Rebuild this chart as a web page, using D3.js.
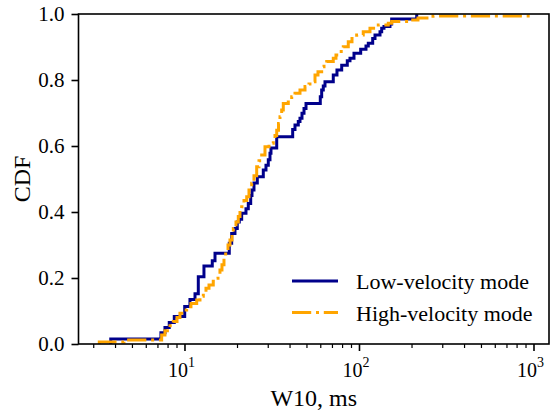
<!DOCTYPE html>
<html>
<head>
<meta charset="utf-8">
<script src="https://cdn.jsdelivr.net/npm/d3@7"></script>
<style>
  body { margin: 0; background: #fff; }
  text { font-family: "Liberation Serif", "Times New Roman", serif; fill: #000; }
</style>
</head>
<body>
<svg id="chart"></svg>
<script>
// W10 (ms) where each CDF step happens, and the CDF value after the step
const lowMs  = [3.78, 7.33, 7.73, 8.18, 8.74, 10.03, 10.75, 11.49, 12.0, 12.93, 14.43, 14.96,
                18.06, 18.64, 19.47, 20.07, 20.61, 21.27, 22.51, 23.21, 23.96, 24.37, 25.02, 26.14,
                28.29, 29.31, 30.22, 30.9, 31.31, 33.77, 41.69, 42.98, 44.89, 45.91, 47.14, 48.41,
                49.71, 60.01, 61.12, 62.43, 63.85, 71.23, 74.79, 79.6, 85.7, 88.8, 93.62, 102.26,
                109.67, 113.06, 119.83, 123.53, 131.96, 134.94, 139.07, 150.5, 153.9, 214.2];
const lowCdf = [0.015, 0.034, 0.05, 0.065, 0.083, 0.114, 0.135, 0.152, 0.204, 0.236, 0.252, 0.275,
                0.305, 0.335, 0.35, 0.37, 0.378, 0.396, 0.41, 0.426, 0.45, 0.467, 0.488, 0.507,
                0.527, 0.542, 0.558, 0.578, 0.594, 0.628, 0.65, 0.664, 0.674, 0.684, 0.699, 0.714,
                0.729, 0.749, 0.77, 0.782, 0.795, 0.815, 0.83, 0.845, 0.858, 0.866, 0.881, 0.893,
                0.903, 0.911, 0.926, 0.936, 0.946, 0.957, 0.962, 0.97, 0.985, 1.0];

const highMs  = [3.25, 4.5, 7.4, 7.73, 8.26, 8.63, 9.06, 9.42, 9.93, 10.29, 10.89, 11.75, 12.27,
                 12.82, 13.28, 13.82, 14.62, 15.15, 15.56, 15.97, 16.4, 16.84, 17.22, 17.76, 18.23,
                 18.72, 19.05, 19.73, 20.34, 20.8, 21.27, 21.93, 22.73, 23.42, 24.27, 25.02, 25.93,
                 26.73, 27.7, 28.93, 30.5, 32.28, 33.01, 33.77, 34.58, 35.26, 36.06, 36.83, 39.34,
                 41.16, 42.98, 45.91, 49.05, 51.7, 53.57, 55.97, 58.21, 61.12, 63.02, 65.31, 71.23,
                 73.81, 76.09, 81.28, 86.82, 91.19, 97.0, 105.8, 115.6, 129.0, 147.2, 153.9, 196.0,
                 217.8, 265.5, 955];
const highCdf = [0.006, 0.012, 0.027, 0.04, 0.055, 0.068, 0.08, 0.093, 0.103, 0.113, 0.123, 0.133, 0.145,
                 0.154, 0.169, 0.179, 0.19, 0.199, 0.212, 0.224, 0.24, 0.26, 0.28, 0.3, 0.315,
                 0.335, 0.35, 0.37, 0.386, 0.406, 0.416, 0.435, 0.446, 0.467, 0.487, 0.51, 0.537,
                 0.555, 0.573, 0.598, 0.608, 0.618, 0.632, 0.648, 0.668, 0.689, 0.709, 0.729, 0.739,
                 0.749, 0.76, 0.77, 0.78, 0.788, 0.795, 0.815, 0.825, 0.84, 0.848, 0.856, 0.866,
                 0.876, 0.886, 0.901, 0.916, 0.926, 0.936, 0.946, 0.957, 0.967, 0.972, 0.977, 0.982,
                 0.988, 0.994, 1.0];

const seriesNames = ["Low-velocity mode", "High-velocity mode"];
const yTicks = [0, 0.2, 0.4, 0.6, 0.8, 1.0];
const xMajor = [10, 100, 1000];

let width = 551, height = 412;
let plotLeft = 78.5, plotRight = 549, plotTop = 14, plotBottom = 344;

let chart = d3.select("#chart").attr("width", width).attr("height", height);

let xscale = d3.scaleLog().domain([2.47, 1227]).range([plotLeft, plotRight]);
let yscale = d3.scaleLinear().domain([0, 1]).range([plotBottom, plotTop]);

chart.append("clipPath").attr("id", "plotclip")
    .append("rect")
    .attr("x", plotLeft).attr("y", plotTop)
    .attr("width", plotRight - plotLeft).attr("height", plotBottom - plotTop);

function stepPoints(xs, cs) {
    let pts = [[xs[0], 0]];
    xs.forEach((v, i) => pts.push([v, cs[i]]));
    return pts;
}

let line = d3.line()
    .x(d => xscale(d[0]))
    .y(d => yscale(d[1]))
    .curve(d3.curveStepAfter);

let plot = chart.append("g").attr("clip-path", "url(#plotclip)");

plot.append("path")
    .attr("d", line(stepPoints(lowMs, lowCdf)))
    .attr("fill", "none")
    .attr("stroke", "#00008b")
    .attr("stroke-width", 3);

plot.append("path")
    .attr("d", line(stepPoints(highMs, highCdf)))
    .attr("fill", "none")
    .attr("stroke", "#ffa500")
    .attr("stroke-width", 3)
    .attr("stroke-dasharray", "19.2,4.8,3,4.8");

// x axis: major + minor ticks
let minor = xscale.ticks().filter(t => xMajor.indexOf(t) < 0);
chart.append("g")
    .attr("transform", "translate(0," + plotBottom + ")")
    .call(d3.axisBottom(xscale).tickValues(minor).tickSize(4).tickFormat(""))
    .call(g => g.select(".domain").remove())
    .call(g => g.selectAll("line").attr("stroke", "#000").attr("stroke-width", 1.2));

chart.append("g")
    .attr("transform", "translate(0," + plotBottom + ")")
    .call(d3.axisBottom(xscale).tickValues(xMajor).tickSize(7).tickFormat(""))
    .call(g => g.select(".domain").remove())
    .call(g => g.selectAll("line").attr("stroke", "#000").attr("stroke-width", 1.6));

xMajor.forEach(v => {
    let t = chart.append("text")
        .attr("x", xscale(v) - 3)
        .attr("y", 377)
        .attr("text-anchor", "middle")
        .style("font-size", "20px");
    t.append("tspan").text("10");
    t.append("tspan").attr("dy", -10).style("font-size", "14px").text(Math.round(Math.log10(v)));
});

// y axis
chart.append("g")
    .attr("transform", "translate(" + plotLeft + ",0)")
    .call(d3.axisLeft(yscale).tickValues(yTicks).tickSize(7).tickPadding(7).tickFormat(d3.format(".1f")))
    .call(g => g.select(".domain").remove())
    .call(g => g.selectAll("line").attr("stroke", "#000").attr("stroke-width", 1.6))
    .call(g => g.selectAll("text").style("font-size", "21px")
        .style("font-family", "'Liberation Serif', 'Times New Roman', serif"));

// spines
chart.append("rect")
    .attr("x", plotLeft).attr("y", plotTop)
    .attr("width", plotRight - plotLeft).attr("height", plotBottom - plotTop)
    .attr("fill", "none")
    .attr("stroke", "#000")
    .attr("stroke-width", 1.6);

// labels
chart.append("text")
    .attr("x", (plotLeft + plotRight) / 2)
    .attr("y", 406)
    .attr("text-anchor", "middle")
    .style("font-size", "24px")
    .text("W10, ms");

chart.append("text")
    .attr("transform", "translate(30," + ((plotTop + plotBottom) / 2) + ") rotate(-90)")
    .attr("text-anchor", "middle")
    .style("font-size", "24px")
    .text("CDF");

// legend
let legend = chart.append("g");
let legendStyles = [
    {color: "#00008b", dash: null},
    {color: "#ffa500", dash: "19.2,4.8,3,4.8"}
];
seriesNames.forEach((name, i) => {
    let yy = 281 + i * 31.5;
    legend.append("line")
        .attr("x1", 292).attr("x2", 338)
        .attr("y1", yy).attr("y2", yy)
        .attr("stroke", legendStyles[i].color)
        .attr("stroke-width", 3)
        .attr("stroke-dasharray", legendStyles[i].dash);
    legend.append("text")
        .attr("x", 356)
        .attr("y", yy + 8)
        .style("font-size", "22px")
        .text(name);
});
</script>
</body>
</html>
